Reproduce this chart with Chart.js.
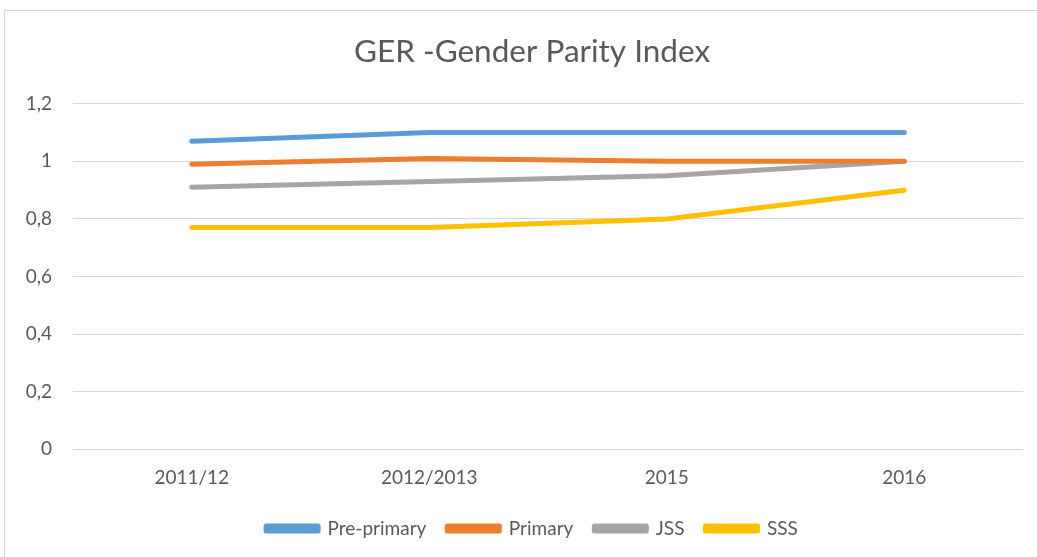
<!DOCTYPE html>
<html>
<head>
<meta charset="utf-8">
<script src="https://cdn.jsdelivr.net/npm/chart.js@4"></script>
<style>
  html, body { margin: 0; padding: 0; background: #fff; overflow: hidden; }
  body { width: 1037px; height: 557px; position: relative; }
  .frame {
    position: absolute; left: 4px; top: 10px; width: 1100px; height: 600px;
    border-left: 1px solid #d9d9d9; border-top: 1px solid #d9d9d9;
  }
  /* the chart box runs past the right edge of the picture, so the canvas does too */
  .wrap { position: absolute; left: 0; top: 0; width: 1064px; height: 557px; }
</style>
</head>
<body>
<div class="frame"></div>
<div class="wrap"><canvas id="chart" width="1064" height="557"></canvas></div>
<script>
// chart data
const categories = ['2011/12', '2012/2013', '2015', '2016'];
const prePrimary = [1.07, 1.1, 1.1, 1.1];
const primary = [0.99, 1.01, 1.0, 1.0];
const jss = [0.91, 0.93, 0.95, 1.0];
const sss = [0.77, 0.77, 0.8, 0.9];

const font = 'Lato, "Open Sans", sans-serif';
const textColor = '#595959';

const line = (label, data, color) => ({
  label,
  data,
  borderColor: color,
  backgroundColor: color,
  borderWidth: 5,
  borderCapStyle: 'round',
  borderJoinStyle: 'round',
  pointRadius: 0,
  tension: 0
});

const chartConfig = {
  type: 'line',
  data: {
    labels: categories,
    datasets: [
      line('Pre-primary', prePrimary, '#5b9bd5'),
      line('Primary', primary, '#ed7d31'),
      line('JSS', jss, '#a5a5a5'),
      line('SSS', sss, '#ffc000'),
    ]
  },
  options: {
    responsive: false,
    animation: false,
    layout: { padding: { left: 7, right: 7, top: 33, bottom: 9 } },
    scales: {
      x: {
        offset: true,
        grid: { display: false },
        border: { display: false },
        ticks: { color: textColor, font: { family: font, size: 19 }, padding: 9 }
      },
      y: {
        min: 0,
        max: 1.2,
        afterFit: scale => { scale.width = 66; },
        ticks: {
          stepSize: 0.2,
          color: textColor,
          font: { family: font, size: 19 },
          padding: 21,
          callback: v => String(Math.round(v * 10) / 10).replace('.', ',')
        },
        grid: { color: '#d9d9d9', lineWidth: 1, drawTicks: false },
        border: { display: false }
      },
      // empty spacer on the right, keeps title and legend centred on the whole chart box
      spacer: {
        position: 'right',
        grid: { display: false },
        border: { display: false },
        ticks: { display: false },
        afterFit: scale => { scale.width = 34; }
      }
    },
    plugins: {
      legend: {
        position: 'bottom',
        labels: {
          color: textColor,
          font: { family: font, size: 19 },
          boxWidth: 52,
          boxHeight: 5,
          padding: 21
        }
      },
      title: {
        display: true,
        text: 'GER -Gender Parity Index',
        color: textColor,
        font: { family: font, size: 31.5, weight: 'normal' },
        padding: { top: 0, bottom: 33 }
      },
      tooltip: { enabled: false }
    }
  }
};

new Chart(document.getElementById('chart'), chartConfig);
</script>
</body>
</html>
